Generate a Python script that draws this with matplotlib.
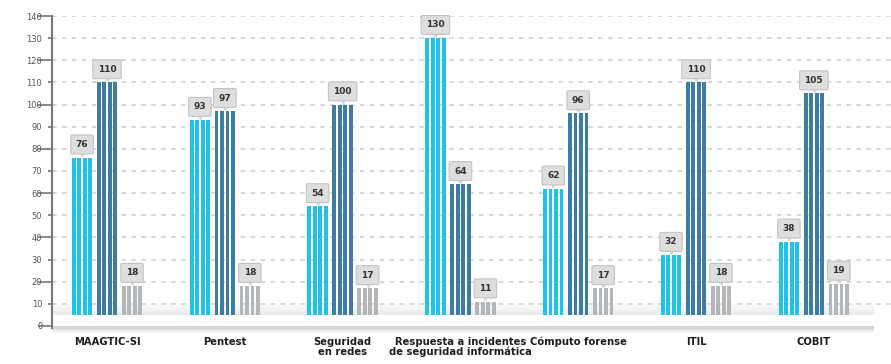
import matplotlib.pyplot as plt
import numpy as np

categorias = ["MAAGTIC-SI", "Pentest", "Seguridad\nen redes",
              "Respuesta a incidentes\nde seguridad informática",
              "Cómputo forense", "ITIL", "COBIT"]
serie_a = [76, 93, 54, 130, 62, 32, 38]
serie_b = [110, 97, 100, 64, 96, 110, 105]
serie_c = [18, 18, 17, 11, 17, 18, 19]

colores = ["#1ec3e6", "#3f7ca2", "#b4b7ba"]
yticks = np.arange(0, 141, 10)

fig = plt.figure(figsize=(8.91, 3.64), dpi=100)
ax = fig.add_axes([52 / 891, 0.0863, 1 - 52 / 891, 0.8697])

x = np.arange(len(categorias))
ancho = 0.187      # ancho de cada barra
paso = 0.212       # separacion entre barras de un grupo
piso = 4.8         # las barras arrancan sobre el "piso"

# lineas de guia punteadas
for t in yticks[1:]:
    ax.axhline(t, color="#d6d6d6", lw=1.3, ls=(0, (2.5, 3)), zorder=0)

# piso con sombra
for k in range(8):
    ax.axhspan(piso + k * 0.7, piso + (k + 1) * 0.7, xmin=0, xmax=0.98,
               color="#d8d8d8", alpha=0.55 * (1 - k / 8), lw=0, zorder=1)
ax.axhspan(0, piso, xmin=0, xmax=0.98, color="white", lw=0, zorder=1)
for k in range(5):
    ax.axhspan(-0.6 * (k + 1), -0.6 * k, xmin=0, xmax=0.98,
               color="#cacaca", alpha=0.9 * (1 - k / 5), lw=0, zorder=1)

for j, (serie, color) in enumerate(zip([serie_a, serie_b, serie_c], colores)):
    centros = x + (j - 1) * paso
    # cada barra se dibuja como 4 franjas
    for s in range(4):
        xs = centros - ancho / 2 + (s + 0.5) * ancho / 4
        ax.bar(xs, np.array(serie) - piso, bottom=piso, width=ancho / 4 * 0.7,
               color=color, lw=0, zorder=3)
    # globos con el valor
    ax.plot(centros, np.array(serie) + 2.0, marker="v", ls="none", ms=5,
            color="#d6d6d6", zorder=4)
    for cx, v in zip(centros, serie):
        ax.annotate(str(v), xy=(cx, v), xytext=(0, 9.5), textcoords="offset points",
                    ha="center", va="center", fontsize=6.5, fontweight="bold",
                    color="#333333", zorder=5,
                    bbox=dict(boxstyle="round,pad=0.55,rounding_size=0.15",
                              fc="#dedede", ec="#c4c4c4", lw=0.8))

ax.set_xlim(-0.467, 6.655)
ax.set_ylim(-3, 140)

ax.set_yticks(yticks)
ax.set_yticklabels([str(t) for t in yticks], fontsize=6, color="#555555")
ax.tick_params(axis="y", length=3, width=1.2, color="#777777", pad=4)
for tick, t in zip(ax.yaxis.get_major_ticks(), yticks):
    if t % 20 == 0:
        tick.tick1line.set_markersize(10)

ax.set_xticks(x)
ax.set_xticklabels(categorias, fontsize=8, fontweight="bold", color="#1e1e1e",
                   family="DejaVu Sans", fontstretch="condensed", linespacing=1.0)
ax.tick_params(axis="x", length=0, pad=3)

for lado in ["top", "right", "bottom"]:
    ax.spines[lado].set_visible(False)
ax.spines["left"].set_color("#777777")
ax.spines["left"].set_linewidth(1.5)
ax.spines["left"].set_bounds(-1, 140)

fig.savefig("out.png", dpi=100)
